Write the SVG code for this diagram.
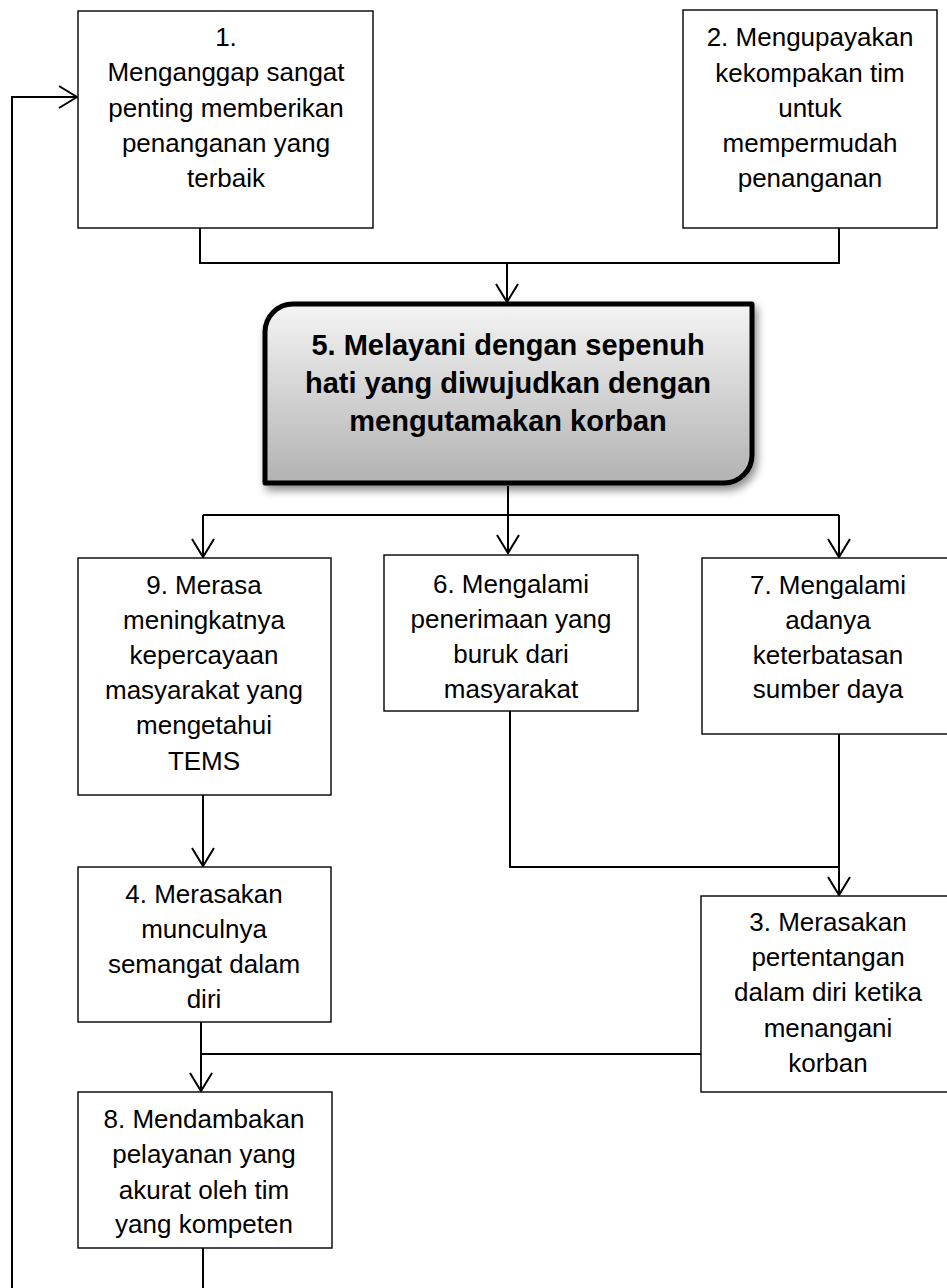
<svg xmlns="http://www.w3.org/2000/svg" width="947" height="1288" viewBox="0 0 947 1288">
<style>
.box{fill:#fff;stroke:#000;stroke-width:1.4}
.t{font-family:"Liberation Sans",Arial,sans-serif;font-size:26px;fill:#000;text-anchor:middle}
.tb{font-family:"Liberation Sans",Arial,sans-serif;font-size:29px;font-weight:bold;fill:#000;text-anchor:middle}
.c{fill:none;stroke:#000;stroke-width:2}
.a{fill:none;stroke:#000;stroke-width:2;marker-end:url(#arr)}
</style>
<defs>
<marker id="arr" viewBox="-20 -13 22 26" refX="0" refY="0" markerWidth="22" markerHeight="26" markerUnits="userSpaceOnUse" orient="auto" overflow="visible">
<path d="M-18,-11 L0,0 L-18,11" fill="none" stroke="#000" stroke-width="2"/>
</marker>
<linearGradient id="g5" x1="0" y1="0" x2="0" y2="1">
<stop offset="0" stop-color="#f4f4f4"/>
<stop offset="1" stop-color="#b2b2b2"/>
</linearGradient>
<filter id="sh" x="-10%" y="-10%" width="125%" height="130%">
<feDropShadow dx="3" dy="5" stdDeviation="4" flood-color="#000" flood-opacity="0.45"/>
</filter>
</defs>
<rect width="947" height="1288" fill="#fff"/>
<g id="connectors">
<path class="c" d="M200,228 V263 H839 V228"/>
<path class="a" d="M507,263 V302"/>
<path class="a" d="M508,486 V553"/>
<path class="c" d="M203,515 H839"/>
<path class="a" d="M203,515 V557"/>
<path class="a" d="M839,515 V557"/>
<path class="a" d="M203,795 V866"/>
<path class="c" d="M510,711 V867 H839"/>
<path class="a" d="M839,734 V895"/>
<path class="c" d="M701,1054 H201"/>
<path class="a" d="M201,1022 V1091"/>
<path class="c" d="M203,1248 V1288"/>
<path class="a" d="M12,1288 V97 H77"/>
</g>
<g id="n1">
<rect class="box" x="78" y="11" width="295" height="217"/>
<text class="t"><tspan x="226" y="46">1.</tspan><tspan x="226" y="81">Menganggap sangat</tspan><tspan x="226" y="117">penting memberikan</tspan><tspan x="226" y="152">penanganan yang</tspan><tspan x="226" y="187">terbaik</tspan></text>
</g>
<g id="n2">
<rect class="box" x="683" y="10" width="254" height="218"/>
<text class="t"><tspan x="810" y="46">2. Mengupayakan</tspan><tspan x="810" y="82">kekompakan tim</tspan><tspan x="810" y="117">untuk</tspan><tspan x="810" y="152">mempermudah</tspan><tspan x="810" y="187">penanganan</tspan></text>
</g>
<g id="n5">
<path d="M293,304 H752 V455 A28,28 0 0 1 724,483 H265 V332 A28,28 0 0 1 293,304 Z" fill="url(#g5)" stroke="#000" stroke-width="5" stroke-linejoin="round" filter="url(#sh)"/>
<text class="tb"><tspan x="508" y="355">5. Melayani dengan sepenuh</tspan><tspan x="508" y="393">hati yang diwujudkan dengan</tspan><tspan x="508" y="431">mengutamakan korban</tspan></text>
</g>
<g id="n9">
<rect class="box" x="78" y="558" width="253" height="237"/>
<text class="t"><tspan x="204" y="594">9. Merasa</tspan><tspan x="204" y="629">meningkatnya</tspan><tspan x="204" y="664">kepercayaan</tspan><tspan x="204" y="699">masyarakat yang</tspan><tspan x="204" y="734">mengetahui</tspan><tspan x="204" y="770">TEMS</tspan></text>
</g>
<g id="n6">
<rect class="box" x="384" y="555" width="254" height="156"/>
<text class="t"><tspan x="511" y="593">6. Mengalami</tspan><tspan x="511" y="628">penerimaan yang</tspan><tspan x="511" y="663">buruk dari</tspan><tspan x="511" y="698">masyarakat</tspan></text>
</g>
<g id="n7">
<rect class="box" x="702" y="558" width="253" height="176"/>
<text class="t"><tspan x="828" y="594">7. Mengalami</tspan><tspan x="828" y="629">adanya</tspan><tspan x="828" y="664">keterbatasan</tspan><tspan x="828" y="698">sumber daya</tspan></text>
</g>
<g id="n4">
<rect class="box" x="78" y="867" width="253" height="155"/>
<text class="t"><tspan x="204" y="903">4. Merasakan</tspan><tspan x="204" y="938">munculnya</tspan><tspan x="204" y="973">semangat dalam</tspan><tspan x="204" y="1008">diri</tspan></text>
</g>
<g id="n3">
<rect class="box" x="701" y="896" width="254" height="196"/>
<text class="t"><tspan x="828" y="931">3. Merasakan</tspan><tspan x="828" y="966">pertentangan</tspan><tspan x="828" y="1001">dalam diri ketika</tspan><tspan x="828" y="1037">menangani</tspan><tspan x="828" y="1072">korban</tspan></text>
</g>
<g id="n8">
<rect class="box" x="78" y="1092" width="254" height="156"/>
<text class="t"><tspan x="204" y="1128">8. Mendambakan</tspan><tspan x="204" y="1163">pelayanan yang</tspan><tspan x="204" y="1199">akurat oleh tim</tspan><tspan x="204" y="1233">yang kompeten</tspan></text>
</g>
</svg>
